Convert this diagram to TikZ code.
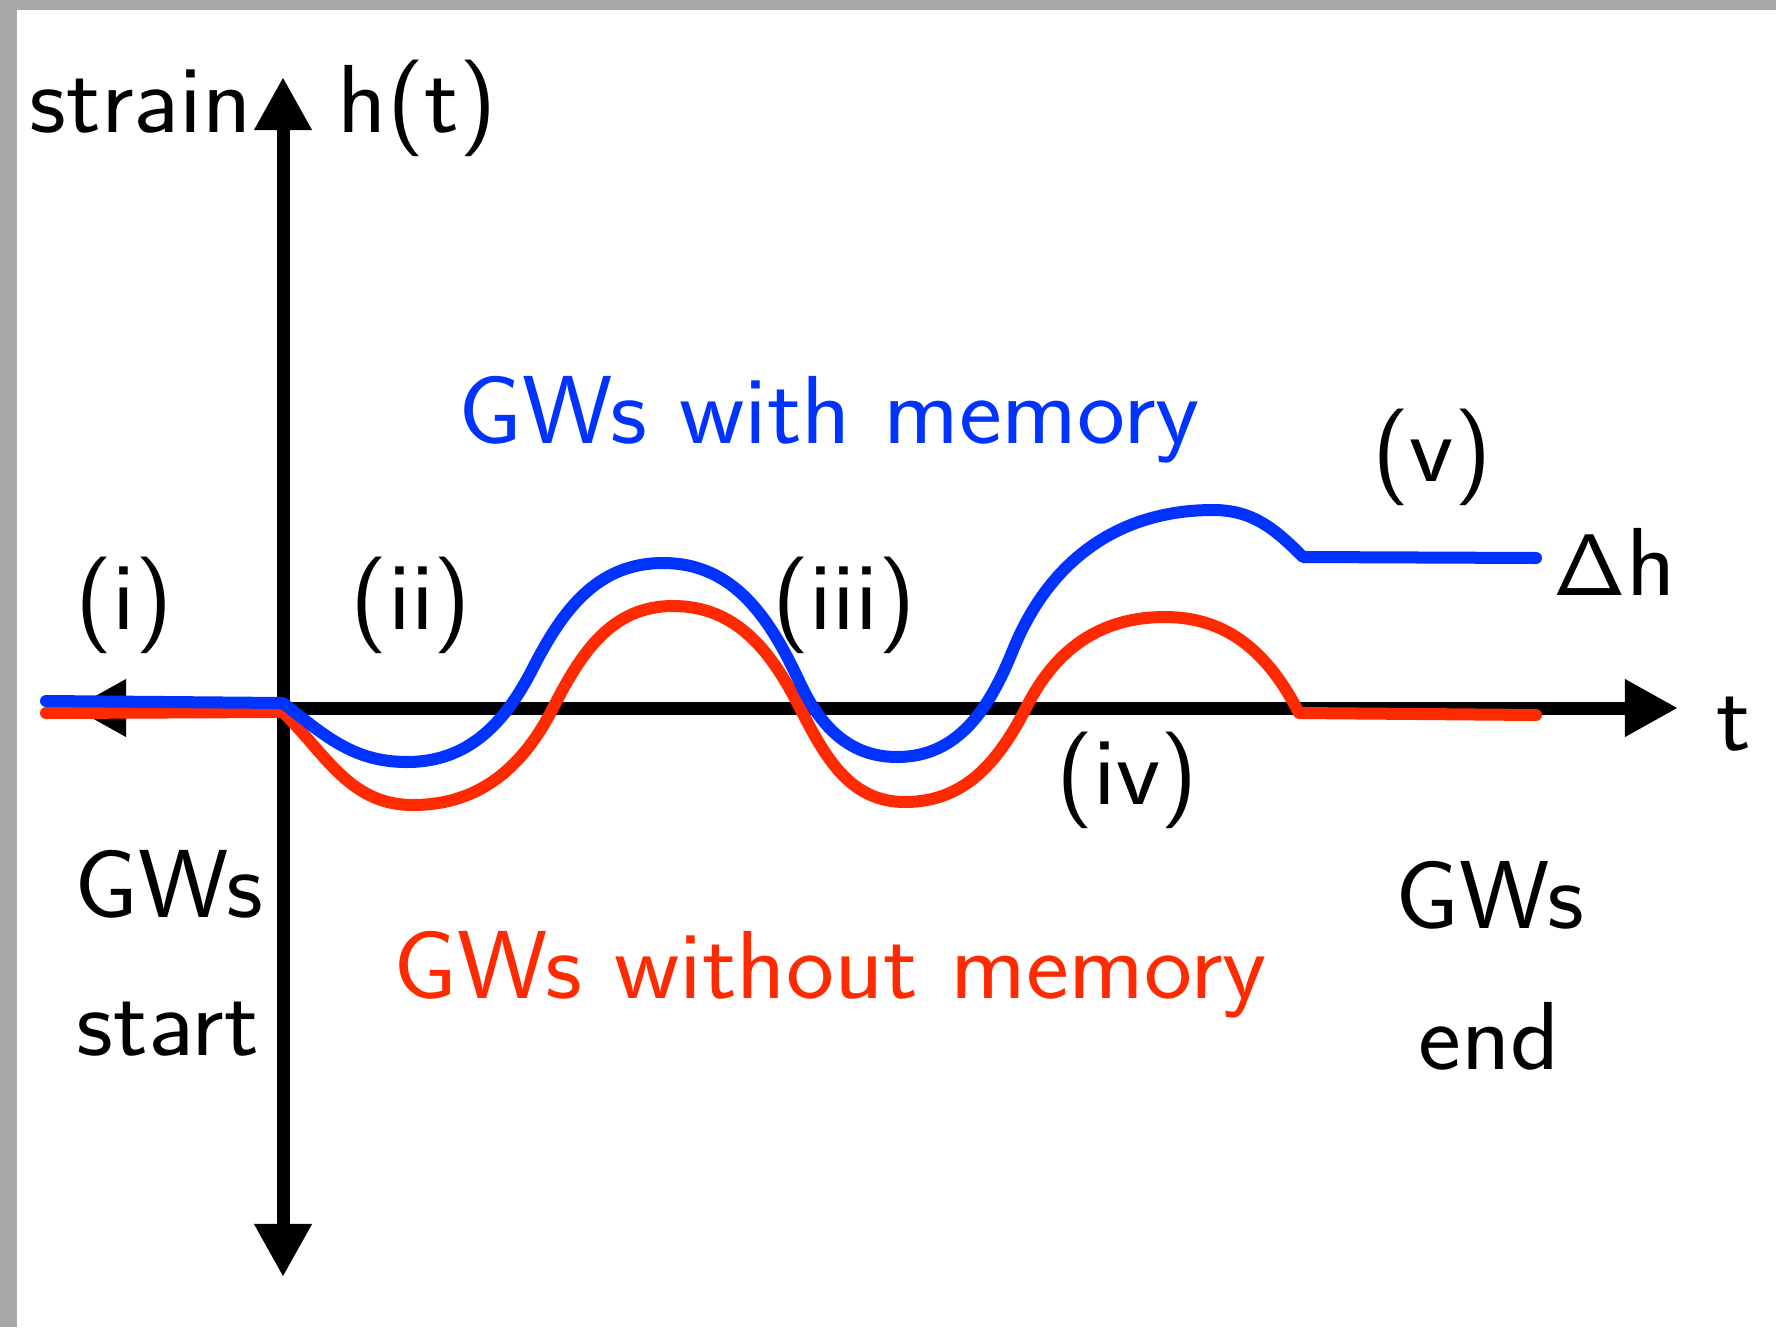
\documentclass[tikz,border=0pt]{standalone}
\usepackage{graphicx}
\usetikzlibrary{arrows.meta, decorations.pathmorphing}
\definecolor{gwblue}{RGB}{0,51,255}
\definecolor{gwred}{RGB}{255,42,0}
\definecolor{framegray}{RGB}{166,169,167}
% slightly wide lettering
\newcommand{\widetxt}[1]{\scalebox{1.055}[1]{#1}}
\tikzset{
  >={Triangle[length=0.53cm,width=0.54cm]},
  % axes
  axis/.style={line width=0.13cm, black},
  % strain curves, crayon look
  strain/.style={line width=0.12cm, line cap=round, line join=round},
  crayon/.style={decorate, decoration={random steps, segment length=3pt, amplitude=0.7pt}, line width=0.04cm},
  strain mem/.style={strain, gwblue, postaction={crayon, draw=gwblue}},
  strain nomem/.style={strain, gwred, postaction={crayon, draw=gwred}},
  % labels
  lbl/.style={inner sep=0, font=\sffamily\fontsize{27.5}{33}\selectfont},
}
\begin{document}
\begin{tikzpicture}[x=0.01cm, y=-0.01cm]
  % frame
  \fill[framegray] (0,0) rectangle (1776,1327);
  \fill[white] (17,10) rectangle (1776,1327);

  % axes
  \coordinate (tleft) at (73,708);
  \coordinate (tright) at (1678,708);
  \coordinate (hup) at (283,77);
  \coordinate (hdown) at (283,1277);
  \draw[axis, <->] (tleft) -- (tright);
  \draw[axis, <->] (hdown) -- (hup);

  % without memory
  \draw[strain nomem] (46,713) -- (283,712)
    to[out=-45, in=180] (413,805) to[out=0, in=243] (553,708)
    to[out=63, in=180] (673,606) to[out=0, in=117] (800,708)
    to[out=-63, in=180] (905,802) to[out=0, in=243] (1027,706)
    to[out=63, in=180] (1165,617) to[out=0, in=117] (1299,713) -- (1536,715);
  % with memory
  \draw[strain mem] (46,701) -- (283,703)
    to[out=-38, in=180] (407,762) to[out=0, in=243] (533,668)
    to[out=63, in=180] (663,563) to[out=0, in=115] (800,683)
    to[out=-65, in=180] (897,757) to[out=0, in=248] (1013,650)
    to[out=68, in=180] (1213,510) to[out=0, in=135] (1303,557) -- (1536,558);

  % labels
  \node[lbl, anchor=base west] (strainlbl) at (29,132) {\widetxt{strain}};
  \node[lbl, anchor=base west] (hlbl) at (337,132) {\widetxt{h(t)}};
  \node[lbl, anchor=base west] (tlbl) at (1716,750) {\widetxt{t}};
  \node[lbl, anchor=base west] (dhlbl) at (1553,595) {\widetxt{$\mathsf{\Delta}$h}};
  \node[lbl, anchor=base] (phase1) at (124,629) {\widetxt{(i)}};
  \node[lbl, anchor=base] (phase2) at (411,629) {\widetxt{(ii)}};
  \node[lbl, anchor=base] (phase3) at (844,629) {\widetxt{(iii)}};
  \node[lbl, anchor=base] (phase4) at (1127,804) {\widetxt{(iv)}};
  \node[lbl, anchor=base] (phase5) at (1432,481) {\widetxt{(v)}};
  \node[lbl, anchor=base west, gwblue] (memlbl) at (458,443) {\widetxt{GWs with memory}};
  \node[lbl, anchor=base west, gwred] (nomemlbl) at (393,998) {\widetxt{GWs without memory}};
  \node[lbl, anchor=base west] (startlbl1) at (74,917) {\widetxt{GWs}};
  \node[lbl, anchor=base west] (startlbl2) at (76,1055) {\widetxt{start}};
  \node[lbl, anchor=base west] (endlbl1) at (1395,928) {\widetxt{GWs}};
  \node[lbl, anchor=base west] (endlbl2) at (1418,1069) {\widetxt{end}};
\end{tikzpicture}
\end{document}
